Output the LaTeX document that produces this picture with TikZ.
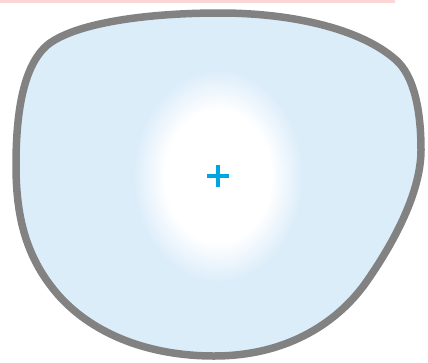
\documentclass[tikz,border=0pt]{standalone}
\usepackage{tikz}
\usetikzlibrary{calc}
\usepackage{xcolor}

\definecolor{lensblue}{RGB}{220,237,250}
\definecolor{rimgray}{RGB}{130,130,130}
\definecolor{crossblue}{RGB}{0,166,226}
\definecolor{toppink}{RGB}{250,214,212}

\pgfdeclareradialshading{glow}{\pgfpoint{0bp}{0bp}}{%
  color(0bp)=(white); color(15bp)=(white); color(24bp)=(lensblue); color(50bp)=(lensblue)}

\begin{document}
\begin{tikzpicture}[x=1pt, y=-1pt,
    lensrim/.style={draw=rimgray, line width=7.5pt, fill=lensblue},
    crossmark/.style={draw=crossblue, line width=3.4pt}]

  \useasboundingbox (0,0) rectangle (428,362);

  % Define coordinates
  \coordinate (C) at (218,176);
  \coordinate (top) at (220,13);
  \coordinate (ne) at (396,60);
  \coordinate (east) at (421,150);
  \coordinate (se) at (367,281);
  \coordinate (bottom) at (214,356);
  \coordinate (sw) at (60,297);
  \coordinate (west) at (16,165);
  \coordinate (nw) at (50,43);

  % Pink strip at the top
  \fill[toppink] (0,0) rectangle (395,3);

  % Lens outline
  \path[lensrim] (top)
    .. controls (290,13) and (360,28) .. (ne)
    .. controls (414,76) and (421,110) .. (east)
    .. controls (421,195) and (390,248) .. (se)
    .. controls (340,320) and (290,356) .. (bottom)
    .. controls (150,356) and (95,335) .. (sw)
    .. controls (25,258) and (16,215) .. (west)
    .. controls (16,110) and (24,62) .. (nw)
    .. controls (80,22) and (150,13) .. (top) -- cycle;

  % White glow in the middle
  \shade[shading=glow] (C) ellipse (88 and 110);

  % Cross
  \draw[crossmark] ($(C)+(-11,0)$) -- ($(C)+(11,0)$);
  \draw[crossmark] ($(C)+(0,-11)$) -- ($(C)+(0,11)$);
\end{tikzpicture}
\end{document}
